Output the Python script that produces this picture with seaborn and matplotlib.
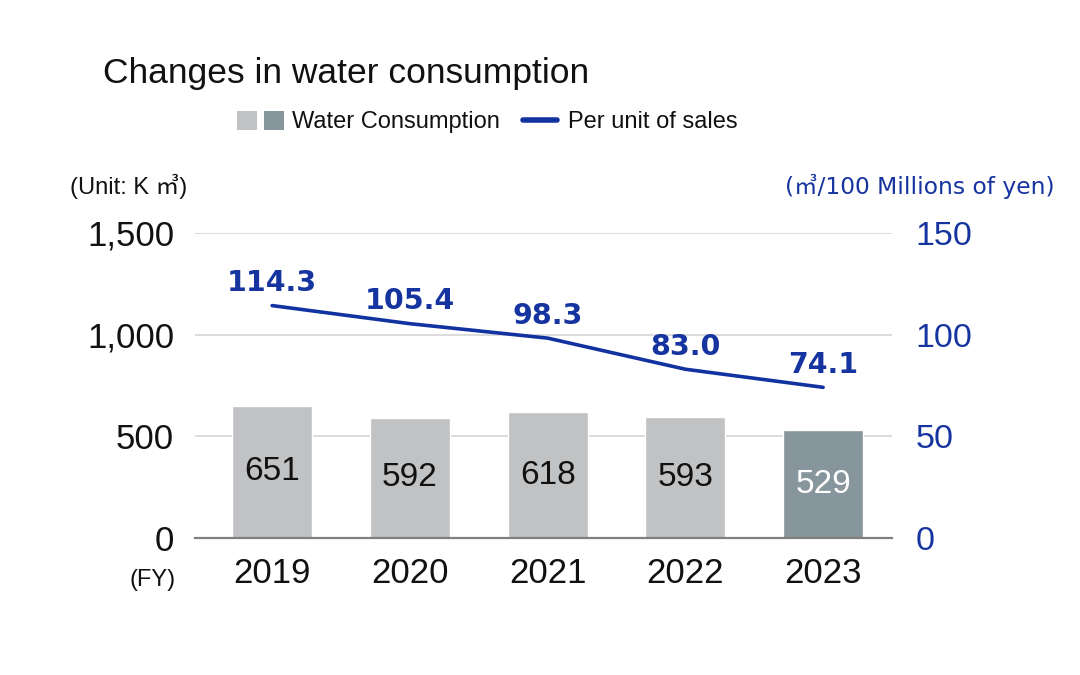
import matplotlib
matplotlib.use("Agg")
import matplotlib.pyplot as plt
import seaborn as sns
import pandas as pd
from matplotlib.patches import Patch
from matplotlib.lines import Line2D
from matplotlib.legend_handler import HandlerTuple

# ---- data ----
years = ["2019", "2020", "2021", "2022", "2023"]
water = [651, 592, 618, 593, 529]
per_unit = [114.3, 105.4, 98.3, 83.0, 74.1]
bar_colors = ["#C1C2C4", "#C1C2C4", "#C1C2C4", "#C1C2C4", "#87959C"]
bar_label_colors = ["#111111", "#111111", "#111111", "#111111", "#FFFFFF"]
left_ticks = [0, 500, 1000, 1500]
right_ticks = [0, 50, 100, 150]

BLUE = "#1634A0"
LINE_BLUE = "#1232A0"

sns.set_theme(style="white")
plt.rcParams["font.family"] = ["Liberation Sans", "Noto Sans CJK JP", "DejaVu Sans"]

df = pd.DataFrame({"year": years, "water": water, "per_unit": per_unit})

fig = plt.figure(figsize=(10.8, 6.75), dpi=100)
ax = fig.add_axes([195 / 1080, 1 - 538 / 675, 697 / 1080, 305 / 675])

sns.barplot(data=df, x="year", y="water", hue="year", palette=bar_colors,
            dodge=False, width=0.58, legend=False, ax=ax, saturation=1,
            zorder=2)
ax.set_xlim(-0.56, 4.5)
ax.set_ylim(0, 1500)
ax.set_yticks(left_ticks)
ax.set_yticklabels([f"{v:,}" for v in left_ticks])
ax.yaxis.grid(True, color="#D6D6D6", linewidth=1.2, zorder=0)
ax.set_axisbelow(True)
for s in ["top", "right", "left"]:
    ax.spines[s].set_visible(False)
ax.spines["bottom"].set_color("#808080")
ax.spines["bottom"].set_linewidth(1.6)
ax.spines["bottom"].set_zorder(3)
ax.tick_params(axis="y", length=0, pad=15, labelsize=25, labelcolor="#111111")
ax.tick_params(axis="x", length=0, pad=14, labelsize=25, labelcolor="#111111")
ax.set_xlabel("")
ax.set_ylabel("")

# bar labels (centered in bar)
for i, c in enumerate(ax.containers):
    ax.bar_label(c, labels=[str(water[i])], label_type="center",
                 fontsize=24, color=bar_label_colors[i])

ax2 = ax.twinx()
sns.lineplot(data=df, x="year", y="per_unit", color=LINE_BLUE, linewidth=2.6,
             ax=ax2, zorder=4)
ax2.set_ylim(0, 150)
ax2.set_yticks(right_ticks)
ax2.set_yticklabels([str(v) for v in right_ticks])
ax2.tick_params(axis="y", length=0, pad=17, labelsize=24.5, labelcolor=BLUE)
ax2.set_ylabel("")
ax2.set_xlabel("")
ax2.grid(False)
for s in ["top", "right", "left", "bottom"]:
    ax2.spines[s].set_visible(False)
ax2.set_xlim(-0.56, 4.5)

for i, v in enumerate(per_unit):
    ax2.annotate(f"{v:.1f}", (years[i], v), xytext=(0, 16), textcoords="offset points",
                 ha="center", va="center", fontsize=20.5, fontweight="bold",
                 color=BLUE, family=["DejaVu Sans"])

# titles and unit labels
fig.text(103 / 1080, 1 - 82.5 / 675, "Changes in water consumption",
         fontsize=25.5, color="#111111", va="baseline", ha="left")
fig.text(70 / 1080, 1 - 186 / 675, "(Unit: K ㎥)", fontsize=17,
         color="#111111", va="center", ha="left")
fig.text(1055 / 1080, 1 - 186 / 675, "(㎥/100 Millions of yen)", fontsize=16.8,
         color=BLUE, va="center", ha="right",
         family=["DejaVu Sans", "Noto Sans CJK JP"])
fig.text(153 / 1080, 1 - 580 / 675, "(FY)", fontsize=17, color="#111111",
         va="center", ha="center")

# legend (two parts, so each handle has its own length)
h_bars = (Patch(facecolor=bar_colors[0], edgecolor="none"),
          Patch(facecolor=bar_colors[-1], edgecolor="none"))
leg1 = fig.legend([h_bars], ["Water Consumption"],
                  handler_map={tuple: HandlerTuple(ndivide=None, pad=0.27)},
                  loc="center left", bbox_to_anchor=(237 / 1080, 1 - 122 / 675),
                  frameon=False, fontsize=17, handlelength=2.0,
                  handleheight=0.85, handletextpad=0.34, borderpad=0,
                  borderaxespad=0)
h_line = Line2D([0], [0], color=LINE_BLUE, linewidth=4)
leg2 = fig.legend([h_line], ["Per unit of sales"],
                  loc="center left", bbox_to_anchor=(523 / 1080, 1 - 122 / 675),
                  frameon=False, fontsize=17, handlelength=1.45,
                  handletextpad=0.47, borderpad=0, borderaxespad=0)
for leg in (leg1, leg2):
    for t in leg.get_texts():
        t.set_color("#111111")

fig.savefig("out.png", dpi=100)
